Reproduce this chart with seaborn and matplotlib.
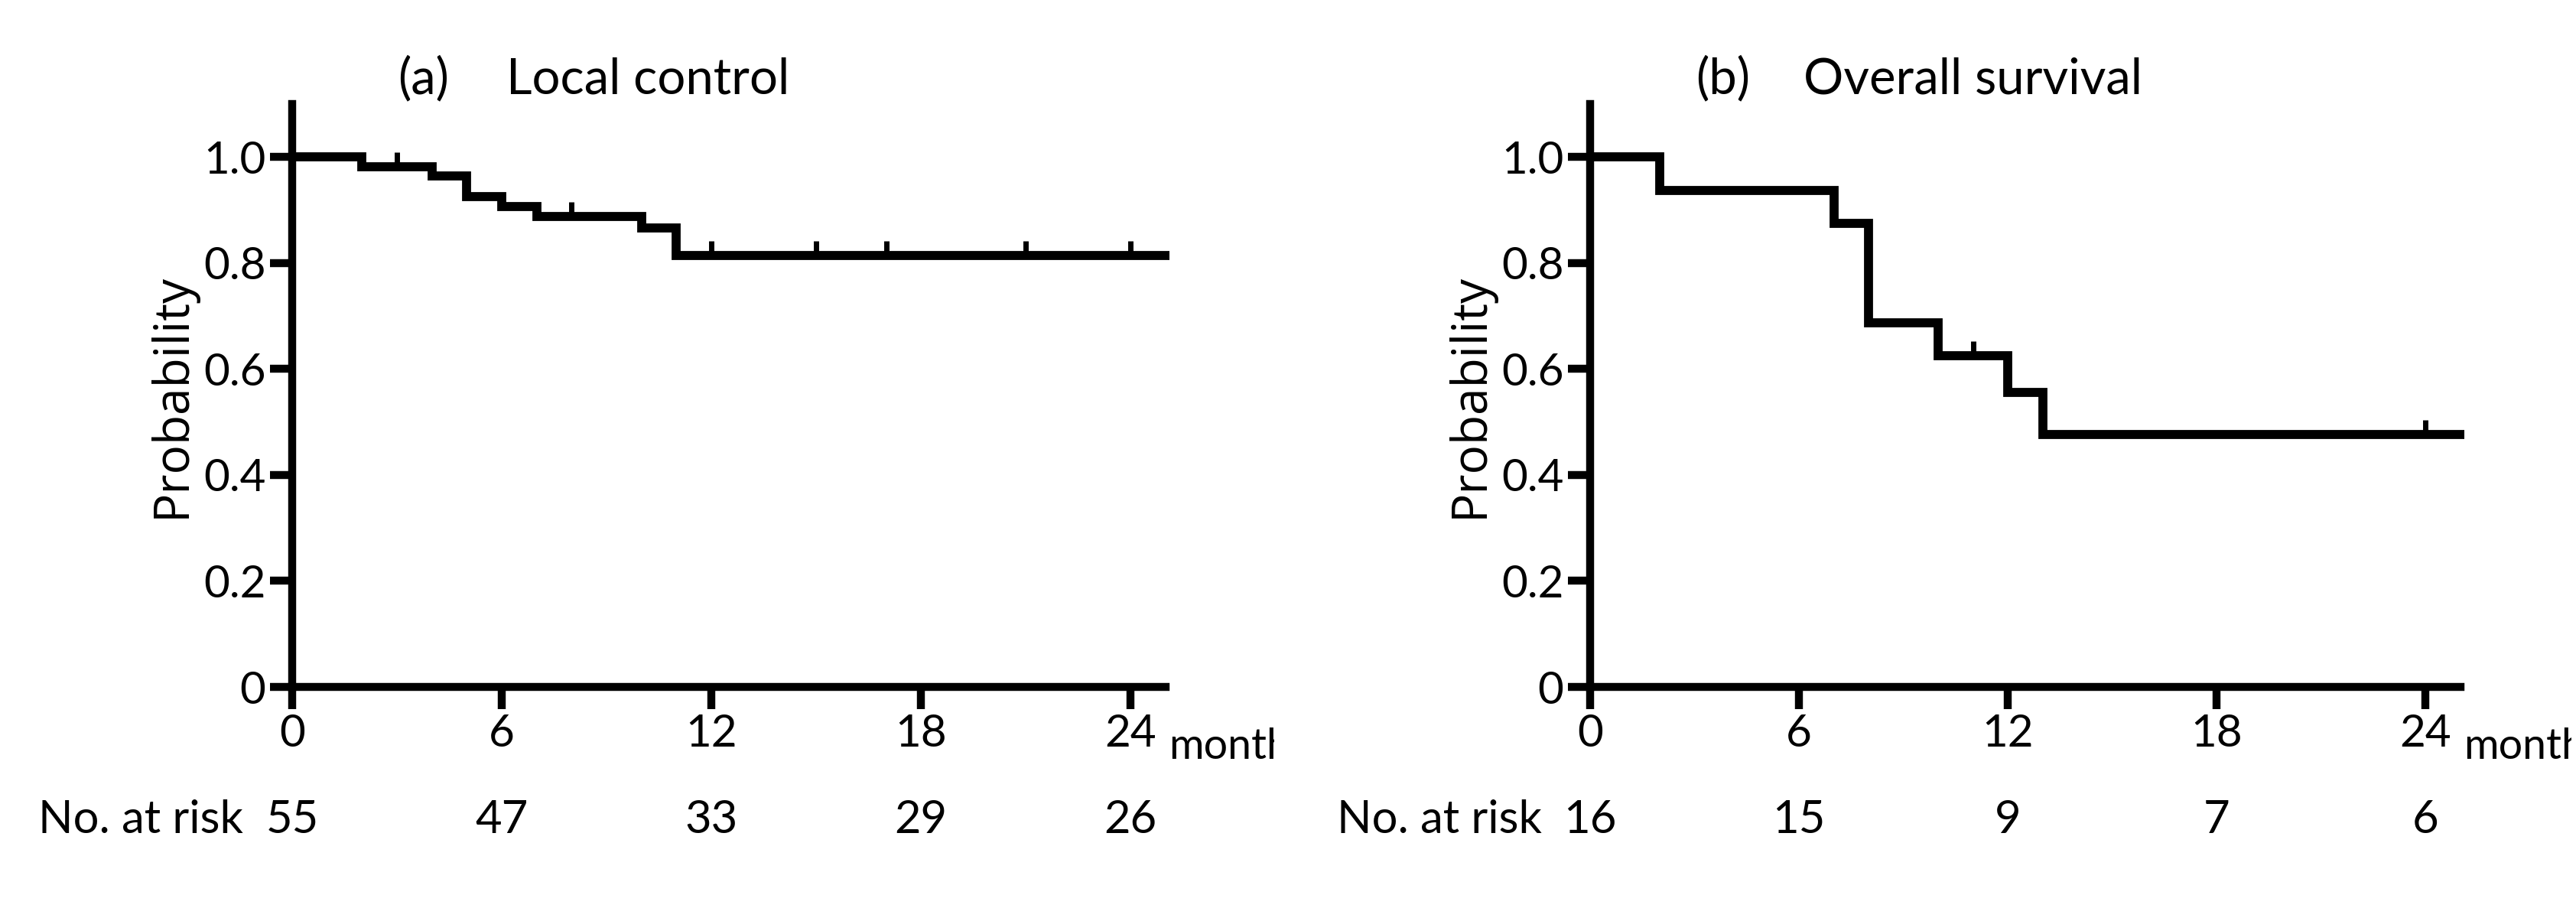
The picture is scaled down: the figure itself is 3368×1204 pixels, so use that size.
import numpy as np
import pandas as pd
import seaborn as sns
import matplotlib.pyplot as plt
from matplotlib import font_manager
from matplotlib.transforms import Bbox, TransformedBbox

# (a) local control: step times (months) and probability after each step
lc_time = [0, 2, 4, 5, 6, 7, 10, 11]
lc_prob = [1.0, 0.982, 0.964, 0.926, 0.907, 0.888, 0.866, 0.814]
lc_censor = [3, 8, 12, 15, 17, 21, 24]
lc_risk = [55, 47, 33, 29, 26]

# (b) overall survival
os_time = [0, 2, 7, 8, 10, 12, 13]
os_prob = [1.0, 0.9375, 0.875, 0.6875, 0.625, 0.556, 0.476]
os_censor = [11, 24]
os_risk = [16, 15, 9, 7, 6]

follow_up_end = 25.1
risk_months = [0, 6, 12, 18, 24]
y_ticks = [0, 0.2, 0.4, 0.6, 0.8, 1.0]
y_tick_labels = ['0', '0.2', '0.4', '0.6', '0.8', '1.0']

sns.set_style('ticks', {'axes.edgecolor': 'black', 'xtick.color': 'black',
                        'ytick.color': 'black', 'text.color': 'black',
                        'axes.labelcolor': 'black'})
installed = {f.name for f in font_manager.fontManager.ttflist}
MAIN_FONT = 'Lato' if 'Lato' in installed else 'DejaVu Sans'
LABEL_FONT = 'Open Sans' if 'Open Sans' in installed else 'DejaVu Sans'
plt.rcParams['font.family'] = [MAIN_FONT, 'DejaVu Sans']

W, H = 3368, 1204
fig = plt.figure(figsize=(W / 100, H / 100), dpi=100)
ax_a = fig.add_axes([382 / W, 1 - 898 / H, 1142 / W, 762 / H])
ax_b = fig.add_axes([2079 / W, 1 - 898 / H, 1138 / W, 762 / H])


def draw_panel(ax, time, prob, censor, risk, tag, title, clip_x):
    curve = pd.DataFrame({'month': time + [follow_up_end],
                          'prob': prob + [prob[-1]]})
    sns.lineplot(data=curve, x='month', y='prob', drawstyle='steps-post',
                 estimator=None, sort=False, color='black', linewidth=8.5,
                 solid_joinstyle='miter', solid_capstyle='butt',
                 clip_on=False, zorder=5, ax=ax)

    idx = np.searchsorted(time, censor, side='right') - 1
    marks = pd.DataFrame({'month': censor, 'prob': np.array(prob)[idx]})
    sns.scatterplot(data=marks, x='month', y='prob', marker=2, s=180,
                    color='black', linewidth=5, clip_on=False, zorder=6,
                    ax=ax)

    ax.set_xlim(0, 25)
    ax.set_ylim(0, 1.1)
    ax.set_xticks(risk_months)
    ax.set_yticks(y_ticks, y_tick_labels)
    sns.despine(ax=ax)
    for side in ['left', 'bottom']:
        ax.spines[side].set_linewidth(7.5)
    ax.tick_params(width=7.5, length=21, labelsize=42, pad=4)
    ax.set_xlabel('')
    ax.set_ylabel('Probability', fontsize=46, fontfamily=LABEL_FONT)
    ax.yaxis.set_label_coords(-0.11, 0.5)

    # titles
    ax.text(0.121, 1.018, tag, transform=ax.transAxes, fontsize=47,
            va='baseline', ha='left')
    ax.text(0.245, 1.018, title, transform=ax.transAxes, fontsize=47,
            va='baseline', ha='left')

    # unit label, cut at the panel edge as in the source figure
    clip = TransformedBbox(Bbox([[0, 0], [clip_x / W, 1]]), fig.transFigure)
    fig.text(1.0035, -0.123, 'month', transform=ax.transAxes, fontsize=40,
             va='baseline', ha='left', clip_on=True, clip_box=clip)

    # numbers at risk
    trans = ax.get_xaxis_transform()
    ax.text(-7.27, -0.2507, 'No. at risk', transform=trans, fontsize=43,
            va='baseline', ha='left')
    for m, n in zip(risk_months, risk):
        ax.text(m, -0.2507, str(n), transform=trans, fontsize=43,
                va='baseline', ha='center')


draw_panel(ax_a, lc_time, lc_prob, lc_censor, lc_risk,
           '(a)', 'Local control', 1666)
draw_panel(ax_b, os_time, os_prob, os_censor, os_risk,
           '(b)', 'Overall survival', 3362)

fig.savefig('out.png', dpi=100)
